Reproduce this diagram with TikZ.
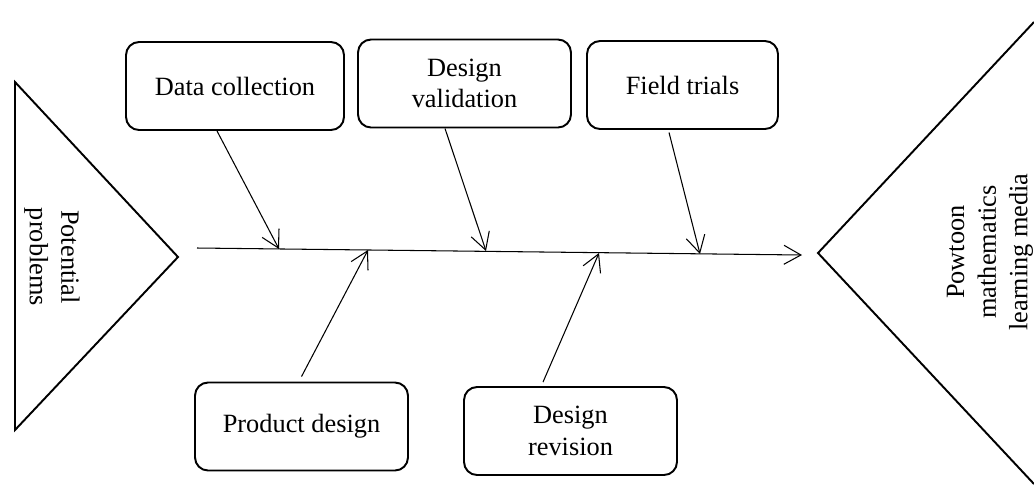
\documentclass[tikz,border=0pt]{standalone}
\usepackage{fontspec}
\setmainfont{Liberation Serif}
\usetikzlibrary{arrows.meta}
\tikzstyle{cause box}=[
        draw = black,
        line width = 1.1pt,
        rounded corners = 2.6mm,
        minimum height = 1.76cm,
        align = center,
        font = \fontsize{15}{18}\selectfont
    ]

\begin{document}
\begin{tikzpicture}[x=0.02cm, y=-0.02cm, >={Straight Barb[length=3.4mm,width=3.8mm]}, bone/.style = {->, line width=0.6pt}, label/.style = {align=center, font=\fontsize{15}{18}\selectfont}]
        \useasboundingbox (0,0) rectangle (1034,488);

        % tail and head of the fish
        \draw[line width=1.1pt] (15,82) -- (178,257) -- (15,430) -- cycle;
        \draw[line width=1.1pt] (1034,22) -- (818,253) -- (1034,484);
        \node[label, rotate=-90] (P) at (52,257) {Potential\\problems};
        \node[label, rotate=90] (M) at (990,252) {Powtoon\\mathematics\\learning media};

        \node[cause box, minimum width=4.36cm] (DC) at (235,86) {Data collection};
        \node[cause box, minimum width=4.26cm] (DV) at (464.5,83.5) {Design\\validation};
        \node[cause box, minimum width=3.82cm] (FT) at (682.5,85) {Field trials};
        \node[cause box, minimum width=4.26cm] (PD) at (301.5,426.5) {Product design};
        \node[cause box, minimum width=4.26cm] (DR) at (570.5,431) {Design\\revision};

        % spine
        \coordinate (tail) at (197,248);
        \coordinate (head) at (802,255);
        \coordinate (a) at (279,249);
        \coordinate (b) at (368,250);
        \coordinate (c) at (486,251);
        \coordinate (d) at (599,253);
        \coordinate (e) at (700,254);
        \draw[bone] (tail) -- (head);

        \draw[bone] ([xshift=-0.36cm]DC.south) -- (a);
        \draw[bone] ([xshift=-0.39cm]DV.south) -- (c);
        \draw[bone] ([xshift=-0.27cm, yshift=-0.05cm]FT.south) -- (e);
        \draw[bone] ([yshift=0.1cm]PD.north) -- (b);
        \draw[bone] ([xshift=-0.55cm, yshift=0.08cm]DR.north) -- (d);
    \end{tikzpicture}
\end{document}
